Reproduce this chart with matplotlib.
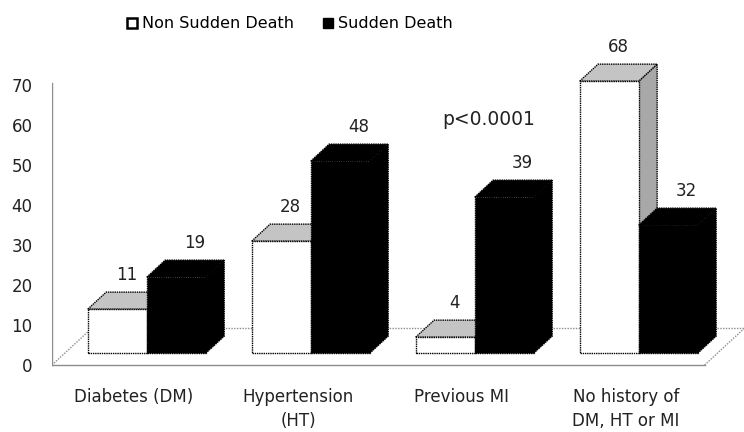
import matplotlib.pyplot as plt
from matplotlib.patches import Polygon, Patch

# data
categories = ['Diabetes (DM)', 'Hypertension\n(HT)', 'Previous MI', 'No history of\nDM, HT or MI']
non_sudden = [11, 28, 4, 68]
sudden = [19, 48, 39, 32]
series_names = ['Non Sudden Death', 'Sudden Death']
y_ticks = [0, 10, 20, 30, 40, 50, 60, 70]
p_text = 'p<0.0001'

# fake 3D look: depth shifts points up/right
DX = 0.244   # x units for full floor depth
DY = 9.25    # value units for full floor depth
D0, D1 = 0.32, 0.78  # bar front / back depth
W = 0.36


def proj(x, v, d):
    return (x + d * DX, v + d * DY)


fig = plt.figure(figsize=(7.44, 4.32), dpi=100)
ax = fig.add_axes([52 / 744, 55 / 432, 692 / 744, 348 / 432])
ax.set_xlim(-0.5, 3.72)
ax.set_ylim(-3, 84)
for s in ax.spines.values():
    s.set_visible(False)

grey = '#8c8c8c'
x0, x1 = -0.5, 3.48
# floor
bl = proj(x0, 0, 1)
br = proj(x1, 0, 1)
ax.plot([bl[0], br[0]], [bl[1], br[1]], color=grey, lw=1, ls=(0, (1, 1)), zorder=1)
ax.plot([x0, bl[0]], [0, bl[1]], color=grey, lw=1, ls=(0, (1, 1)), zorder=1)
ax.plot([x1, br[0]], [0, br[1]], color=grey, lw=1, ls=(0, (1, 1)), zorder=1)
ax.plot([x0, x1], [0, 0], color=grey, lw=1, zorder=1)
ax.plot([x0, x0], [0, 70.5], color=grey, lw=1, zorder=1)


def bar3d(xl, v, front, top, side, z):
    xr = xl + W
    faces = [
        ([proj(xr, 0, D0), proj(xr, 0, D1), proj(xr, v, D1), proj(xr, v, D0)], side),
        ([proj(xl, v, D0), proj(xr, v, D0), proj(xr, v, D1), proj(xl, v, D1)], top),
        ([proj(xl, 0, D0), proj(xr, 0, D0), proj(xr, v, D0), proj(xl, v, D0)], front),
    ]
    for pts, fc in faces:
        ax.add_patch(Polygon(pts, closed=True, facecolor=fc, edgecolor='black',
                             lw=1, ls=(0, (1, 0.6)), zorder=z, clip_on=False))


for i in range(len(categories)):
    bar3d(i - W, non_sudden[i], 'white', '#c4c4c4', '#a8a8a8', 3 + i * 2)
    bar3d(i, sudden[i], 'black', 'black', 'black', 4 + i * 2)
    # white labels sit a bit further left than the black ones
    for xl, v, d in [(i - W, non_sudden[i], (D0 + D1) / 2), (i, sudden[i], D1)]:
        tx, _ = proj(xl + W / 2, v, d)
        _, ty = proj(xl, v, D1)
        ax.text(tx, ty + 4.3, str(v), ha='center', va='center', fontsize=12,
                color='#222222', zorder=20)

ax.text(2.165, 61.3, p_text, ha='center', va='center', fontsize=13.5, color='#222222')

ax.set_yticks(y_ticks)
ax.set_yticklabels([str(t) for t in y_ticks], fontsize=12, color='#222222')
ax.set_xticks(range(len(categories)))
ax.set_xticklabels(categories, fontsize=12, color='#222222', linespacing=1.45)
ax.tick_params(axis='y', length=0, pad=14)
ax.tick_params(axis='x', length=0, pad=8)

handles = [Patch(facecolor='white', edgecolor='black', lw=1.8),
           Patch(facecolor='black', edgecolor='black')]
fig.legend(handles, series_names, loc='center', bbox_to_anchor=(290 / 744, 1 - 24 / 432),
           ncol=2, frameon=False, fontsize=11.5, handlelength=0.65, handleheight=0.65,
           handletextpad=0.3, columnspacing=1.8)

fig.savefig('out.png', dpi=100)
